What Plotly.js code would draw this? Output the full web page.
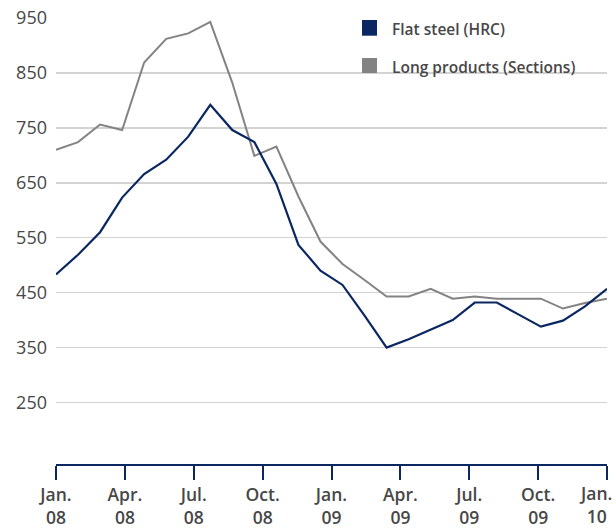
<!DOCTYPE html>
<html>
<head>
<meta charset="utf-8">
<script src="https://cdn.plot.ly/plotly-3.0.1.min.js"></script>
<style>
  html, body { margin: 0; padding: 0; background: #ffffff; }
  #chart { width: 616px; height: 528px; }
</style>
</head>
<body>
<div id="chart"></div>
<script>
// Monthly steel prices, Jan 2008 onwards
const flatSteel = [483, 519, 560, 623, 666, 692, 734, 792, 746, 724, 648, 537, 490,
                   464, 408, 350, 365, 382, 400, 432, 432, 410, 388, 399, 425, 457];
const longProducts = [710, 724, 756, 746, 869, 912, 922, 943, 832, 699, 716, 625, 543,
                      502, 473, 443, 443, 457, 439, 443, 439, 439, 439, 421, 431, 439];

const seriesNames = ['Flat steel (HRC)', 'Long products (Sections)'];
const tickLabels = ['Jan.<br>08', 'Apr.<br>08', 'Jul.<br>08', 'Oct.<br>08', 'Jan.<br>09',
                    'Apr.<br>09', 'Jul.<br>09', 'Oct.<br>09', 'Jan.<br>10'];
const yTicks = [250, 350, 450, 550, 650, 750, 850, 950];

const navy = '#0b2762';
const grey = '#838383';
const textColor = '#474747';

const xs = flatSteel.map((_, i) => i);
const lastX = xs[xs.length - 1];
// quarterly ticks spread evenly across the series span
const tickPos = tickLabels.map((_, k) => k * lastX / (tickLabels.length - 1));
// the final label sits flush with the right edge, so it is drawn separately
const tickText = tickLabels.map((t, k) => (k === tickLabels.length - 1 ? '' : t));

const traces = [
  { x: xs, y: longProducts, name: seriesNames[1], type: 'scatter', mode: 'lines',
    line: { color: grey, width: 2 }, showlegend: false },
  { x: xs, y: flatSteel, name: seriesNames[0], type: 'scatter', mode: 'lines',
    line: { color: navy, width: 2.2 }, showlegend: false }
];

const font = { family: '"Open Sans", "DejaVu Sans", sans-serif', color: textColor };
const xTickFont = { family: font.family, size: 17.5, color: textColor, weight: 600 };

// Custom legend: square swatches with labels
const legendX0 = 0.5554, legendX1 = 0.5826, legendTextX = 0.607;
const legendRows = [
  { y0: 0.9603, y1: 0.9955, ty: 0.9756, color: navy, text: seriesNames[0] },
  { y0: 0.8767, y1: 0.9103, ty: 0.8904, color: grey, text: seriesNames[1] }
];

const annotations = legendRows.map(r => ({
  xref: 'paper', yref: 'paper', x: legendTextX, y: r.ty,
  xanchor: 'left', yanchor: 'middle', showarrow: false,
  text: r.text,
  font: { family: font.family, size: 15.5, color: textColor, weight: 600 }
}));
annotations.push({
  xref: 'x', yref: 'paper', x: lastX, y: 0,
  xanchor: 'right', yanchor: 'top', xshift: 6, yshift: -16,
  showarrow: false, align: 'center', borderpad: 0,
  text: tickLabels[tickLabels.length - 1],
  font: xTickFont
});

const layout = {
  width: 616, height: 528,
  margin: { l: 56, r: 9, t: 18, b: 64 },
  paper_bgcolor: '#ffffff', plot_bgcolor: '#ffffff',
  font: font,
  xaxis: {
    range: [0, lastX],
    showgrid: false, zeroline: false,
    showline: true, linecolor: navy, linewidth: 2,
    ticks: 'outside', ticklen: 14, tickwidth: 2, tickcolor: navy,
    tickvals: tickPos, ticktext: tickText,
    tickfont: xTickFont,
    fixedrange: true
  },
  yaxis: {
    range: [138, 950],
    tickvals: yTicks,
    showgrid: true, gridcolor: '#d3d3d3', gridwidth: 1.5,
    zeroline: false, showline: false, ticks: '',
    ticklabelstandoff: 8,
    tickfont: { family: font.family, size: 18, color: textColor, weight: 500 },
    fixedrange: true
  },
  shapes: legendRows.map(r => ({
    type: 'rect', xref: 'paper', yref: 'paper',
    x0: legendX0, x1: legendX1, y0: r.y0, y1: r.y1,
    fillcolor: r.color, line: { width: 0 }, layer: 'above'
  })),
  annotations: annotations
};

Plotly.newPlot('chart', traces, layout, { displayModeBar: false, staticPlot: true });
</script>
</body>
</html>
